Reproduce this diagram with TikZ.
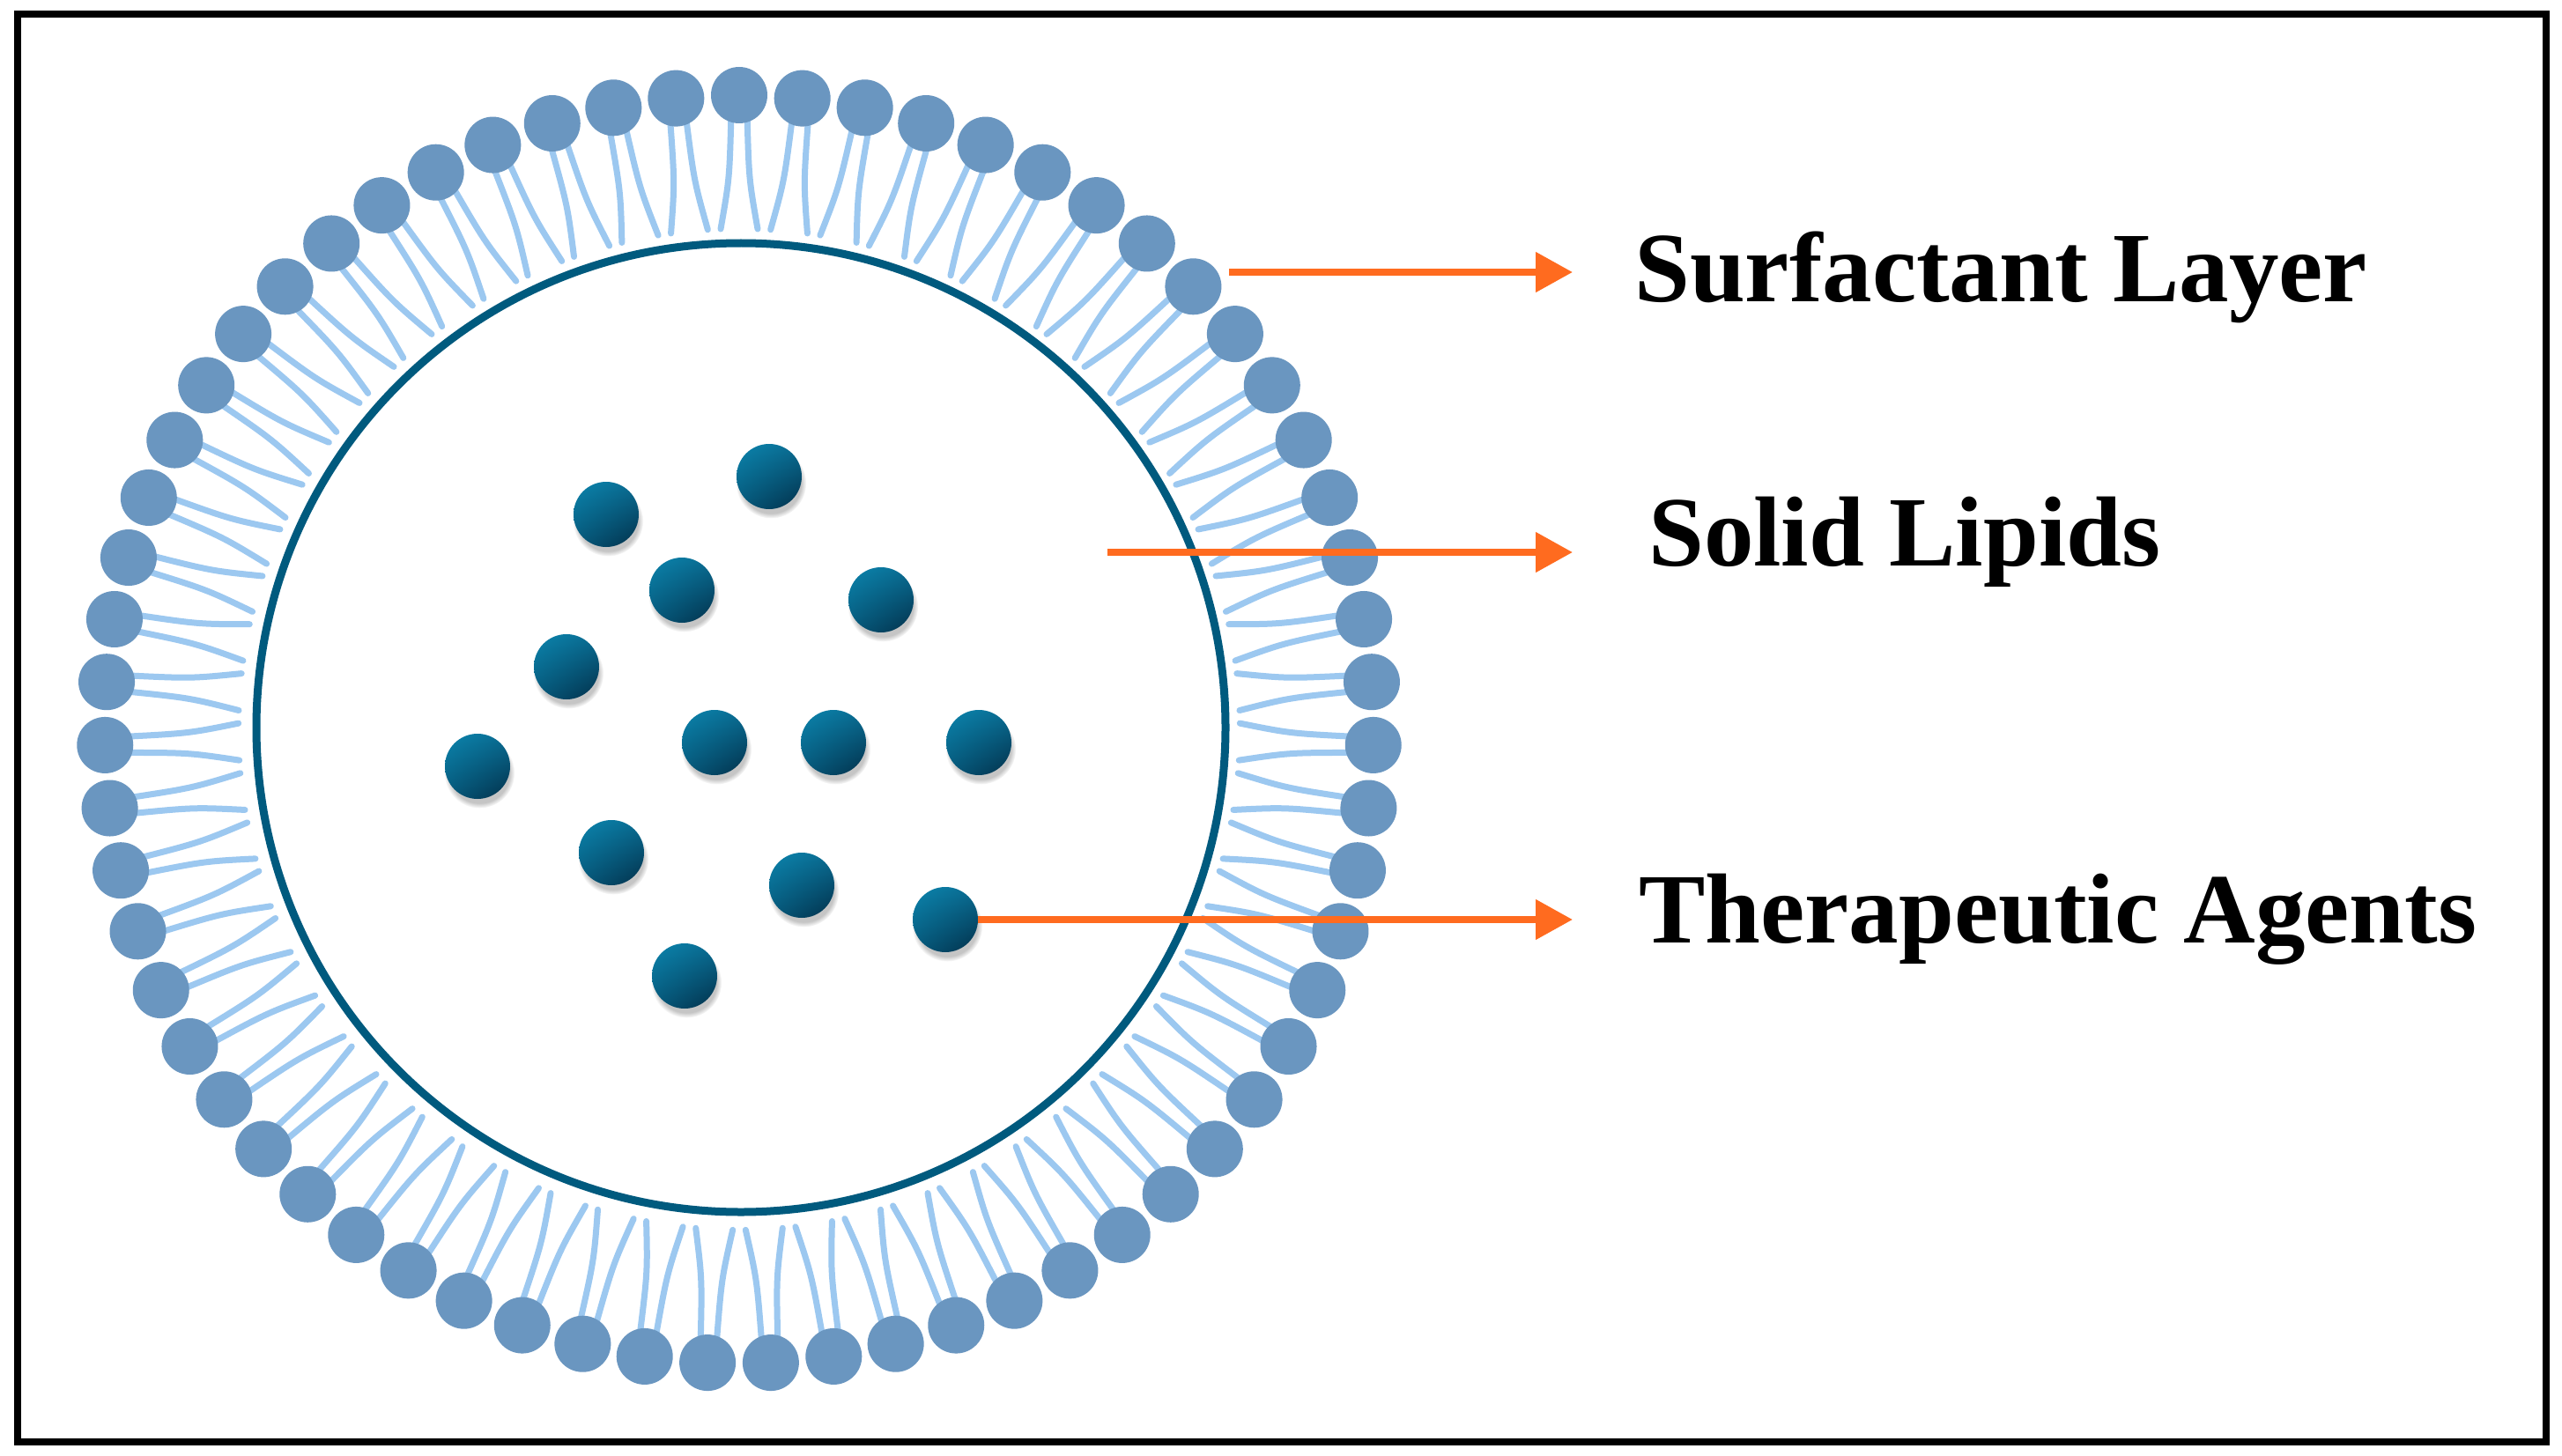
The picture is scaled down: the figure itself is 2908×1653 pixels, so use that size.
\documentclass[tikz,border=0pt]{standalone}
\usepackage{fontspec}
\setmainfont{Liberation Serif}
\usetikzlibrary{calc,arrows.meta,shadows,shadings}
\definecolor{headc}{HTML}{6A96C0}
\definecolor{tailc}{HTML}{9CC8F0}
\definecolor{corec}{HTML}{005A7E}
\definecolor{arrc}{HTML}{FF6B1F}
\definecolor{ballA}{HTML}{0B84AD}
\definecolor{ballB}{HTML}{0A6C92}
\definecolor{ballC}{HTML}{06587A}
\definecolor{ballD}{HTML}{02304A}
\begin{document}
\begin{tikzpicture}[x=1pt,y=-1pt,
  head/.style={circle, fill=headc, minimum size=64pt, inner sep=0pt},
  tail/.style={draw=tailc, line width=7pt, line cap=round},
  agent/.style={circle, minimum size=74pt, inner sep=0pt, shade,
    upper left=ballA, upper right=ballB, lower left=ballC, lower right=ballD,
    circular drop shadow={shadow xshift=2pt, shadow yshift=-7pt, shadow scale=1.08, opacity=0.45}},
  pointer/.style={draw=arrc, line width=8pt, -{Triangle[length=42pt,width=44pt]}},
  lab/.style={anchor=base west, inner sep=0pt, font=\bfseries\fontsize{113}{130}\selectfont}]
\useasboundingbox (0,0) rectangle (2908,1653);
\fill[white] (0,0) rectangle (2908,1653);
% frame
\draw[line width=8pt] (20,16) rectangle (2889.5,1636.5);
% surfactant tails
\coordinate (hc) at (839,828);
\foreach \k in {0,...,62} {
  \pgfmathsetmacro\ang{270+\k*(360/63)}
  \pgfmathsetmacro\perp{\ang+90}
  \draw[tail] ($(hc)+(\ang:700)+(\perp:9)$) .. controls ($(hc)+(\ang:625)+(\perp:11)$) .. ($(hc)+(\ang:568)+(\perp:21)$);
  \draw[tail] ($(hc)+(\ang:700)+(\perp:-9)$) .. controls ($(hc)+(\ang:625)+(\perp:-11)$) .. ($(hc)+(\ang:568)+(\perp:-21)$);
}
% core
\node[circle, draw=corec, line width=9pt, minimum size=1100pt, inner sep=0pt] (core) at (841,826) {};
% heads
\foreach \k in {0,...,62} {
  \pgfmathsetmacro\ang{270+\k*(360/63)}
  \node[head] (h\k) at ($(hc)+(\ang:720)$) {};
}
% therapeutic agents
\node[agent] (b1) at (688,584) {};
\node[agent] (b2) at (873,541) {};
\node[agent] (b3) at (774,670) {};
\node[agent] (b4) at (1000,681) {};
\node[agent] (b5) at (643,757) {};
\node[agent] (b6) at (542,870) {};
\node[agent] (b7) at (811,843) {};
\node[agent] (b8) at (946,843) {};
\node[agent] (b9) at (1111,843) {};
\node[agent] (b10) at (694,968) {};
\node[agent] (b11) at (910,1005) {};
\node[agent] (b12) at (1073,1044) {};
\node[agent] (b13) at (777,1108) {};
% labels
\node[lab] (l1) at (1855,342) {Surfactant Layer};
\node[lab] (l2) at (1871,642) {Solid Lipids};
\node[lab] (l3) at (1860,1070) {Therapeutic Agents};
% arrows
\coordinate (s1) at (1395,309);
\coordinate (t1) at (1785,309);
\coordinate (s2) at (1257,627);
\coordinate (t2) at (1785,627);
\coordinate (t3) at (1785,1044);
\draw[pointer] (s1) -- (t1);
\draw[pointer] (s2) -- (t2);
\draw[pointer] (b12.east) -- (t3);
\end{tikzpicture}
\end{document}
